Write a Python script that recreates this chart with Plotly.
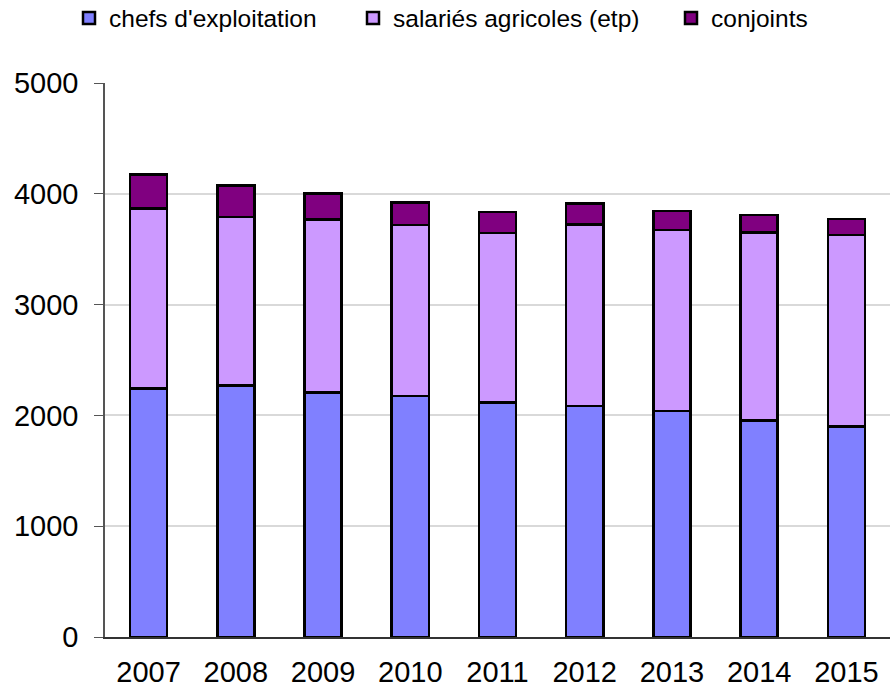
import plotly.graph_objects as go

years = ["2007", "2008", "2009", "2010", "2011", "2012", "2013", "2014", "2015"]
chefs = [2245, 2268, 2208, 2175, 2118, 2085, 2040, 1956, 1898]
salaries = [1624, 1523, 1558, 1543, 1528, 1636, 1633, 1696, 1730]
conjoints = [307, 282, 235, 205, 192, 193, 172, 157, 145]

series = [
    ("chefs d'exploitation", chefs, "#8080FF", "legend"),
    ("salariés agricoles (etp)", salaries, "#CC99FF", "legend2"),
    ("conjoints", conjoints, "#800080", "legend3"),
]

fig = go.Figure()
for name, vals, col, lg in series:
    fig.add_trace(go.Bar(
        x=years, y=vals, name=name, legend=lg,
        marker=dict(color=col, line=dict(color="black", width=2.5)),
    ))

W, H = 895, 692
legend_common = dict(orientation="h", xanchor="left", yanchor="middle",
                     xref="container", yref="container", y=1 - 18 / H,
                     font=dict(size=24.5), itemclick=False, bgcolor="rgba(0,0,0,0)")
marker_centers = [89, 373, 691]

fig.update_layout(
    barmode="stack",
    bargap=0.575,
    width=W, height=H,
    margin=dict(l=105, r=5, t=83, b=55, autoexpand=False),
    plot_bgcolor="white", paper_bgcolor="white",
    font=dict(family="Liberation Sans, Arial, sans-serif", color="black", size=29),
    legend=dict(legend_common, x=(marker_centers[0] - 20) / W),
    legend2=dict(legend_common, x=(marker_centers[1] - 20) / W),
    legend3=dict(legend_common, x=(marker_centers[2] - 20) / W),
    showlegend=True,
)
fig.update_yaxes(range=[0, 5000], dtick=1000, showgrid=True, gridcolor="#D9D9D9", gridwidth=2,
                 showline=True, linecolor="#555555", linewidth=1.5, ticks="outside",
                 ticklen=9, tickcolor="#555555", zeroline=False, tickfont=dict(size=29),
                 ticklabelstandoff=10)
fig.update_xaxes(showline=True, linecolor="#333333", linewidth=1.5, ticks="",
                 tickfont=dict(size=29), ticklabelstandoff=8)

fig.write_html("out.html", config={"displayModeBar": False},
               post_script="document.body.style.margin='0';document.body.style.overflow='hidden';")
